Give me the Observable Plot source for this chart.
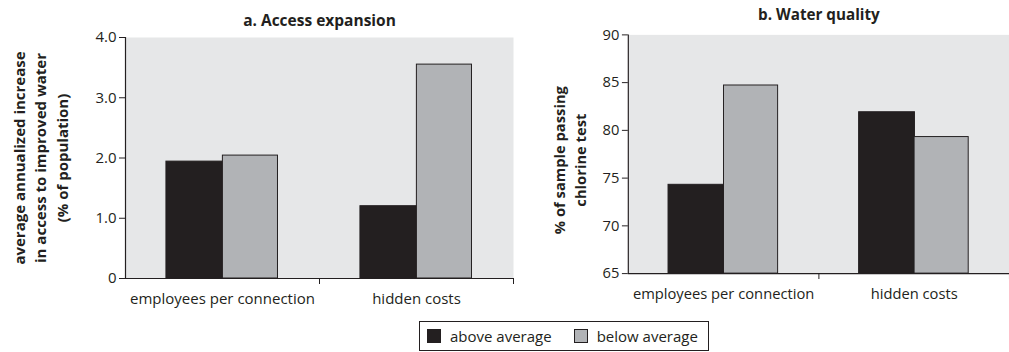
<!DOCTYPE html>
<html>
<head>
<meta charset="utf-8">
<script src="https://cdn.jsdelivr.net/npm/d3@7"></script>
<script src="https://cdn.jsdelivr.net/npm/@observablehq/plot@0.6"></script>
<style>
  html, body { margin: 0; padding: 0; background: #fff; overflow: hidden; }
  #wrap { position: relative; width: 1009px; height: 352px; overflow: hidden; font-family: "Open Sans", sans-serif; }
  #left { position: absolute; left: 0; top: 0; }
  #right { position: absolute; left: 505px; top: 0; }
  #legend { position: absolute; left: 419px; top: 321px; width: 288px; height: 28px; border: 1px solid #231f20; box-sizing: content-box;
            display: flex; align-items: center; font-size: 15px; color: #231f20; }
  .sw { width: 14px; height: 14px; border: 1px solid #231f20; display: inline-block; margin-right: 9px; box-sizing: border-box; }
  .item { display: flex; align-items: center; }
</style>
</head>
<body>
<div id="wrap">
  <div id="left"></div>
  <div id="right"></div>
  <div id="legend"></div>
</div>
<script>
const categories = ["employees per connection", "hidden costs"];
const seriesNames = ["above average", "below average"];
const seriesColors = ["#231f20", "#b1b3b6"];

const accessAbove = [1.94, 1.20];
const accessBelow = [2.04, 3.55];
const accessTicks = [0, 1, 2, 3, 4];

const qualityAbove = [74.3, 81.9];
const qualityBelow = [84.7, 79.3];
const qualityTicks = [65, 70, 75, 80, 85, 90];

const ink = "#231f20";
const bg = "#e6e7e8";
const font = "Open Sans, sans-serif";

function rows(above, below) {
  return categories.flatMap((c, i) => [
    {category: c, series: seriesNames[0], value: above[i]},
    {category: c, series: seriesNames[1], value: below[i]}
  ]);
}

function panel({data, domain, ticks, tickFormat, title, titleDy, label, labelDx, labelDy, width, marginLeft, marginRight, marginTop}) {
  const height = 310;
  const marginBottom = 32;
  const plotH = height - marginTop - marginBottom;
  const band = (width - marginLeft - marginRight) / categories.length;
  const base = domain[0];
  return Plot.plot({
    width, height, marginLeft, marginRight, marginTop, marginBottom,
    style: {fontFamily: font, fontSize: "15px", color: ink, background: "transparent", overflow: "visible"},
    x: {type: "band", domain: categories, padding: 0, axis: null},
    y: {domain, axis: null},
    marks: [
      Plot.frame({fill: bg}),
      Plot.barY(data.filter(d => d.series === seriesNames[0]), {
        x: "category", y1: base, y2: "value", fill: seriesColors[0], stroke: ink, strokeWidth: 1,
        insetLeft: band * 0.211, insetRight: band * 0.496
      }),
      Plot.barY(data.filter(d => d.series === seriesNames[1]), {
        x: "category", y1: base, y2: "value", fill: seriesColors[1], stroke: ink, strokeWidth: 1,
        insetLeft: band * 0.502, insetRight: band * 0.214
      }),
      Plot.ruleY([base], {stroke: ink, strokeWidth: 1.2}),
      Plot.axisY({ticks, tickFormat, tickSize: 6, tickPadding: 3, stroke: ink, fill: ink, fontSize: 15, label: null}),
      Plot.tickX(categories.slice(0, 1), {x: d => d, dx: -band / 2, stroke: ink, strokeWidth: 1.2, insetBottom: 0}),
      Plot.tickX(categories, {x: d => d, dx: band / 2, stroke: ink, strokeWidth: 1, insetTop: plotH, insetBottom: -6}),
      Plot.axisX({tickSize: 0, tickPadding: 15, fontSize: 15, fill: ink, label: null}),
      Plot.text([title], {frameAnchor: "top", dy: titleDy, fontWeight: "bold", fontSize: 15.5, fill: ink}),
      Plot.text([label], {frameAnchor: "left", textAnchor: "middle", lineAnchor: "middle", dx: labelDx, dy: labelDy, rotate: -90,
        fontWeight: "bold", fontSize: 15, lineHeight: 1.45, fill: ink})
    ]
  });
}

document.getElementById("left").append(panel({
  data: rows(accessAbove, accessBelow),
  domain: [0, 4], ticks: accessTicks, tickFormat: d => d === 0 ? "0" : d.toFixed(1),
  title: "a. Access expansion", titleDy: -23,
  label: "average annualized increase\nin access to improved water\n(% of population)", labelDx: -86, labelDy: 0,
  width: 519, marginLeft: 125, marginRight: 6, marginTop: 37
}));

document.getElementById("right").append(panel({
  data: rows(qualityAbove, qualityBelow),
  domain: [65, 90], ticks: qualityTicks, tickFormat: d => String(d),
  title: "b. Water quality", titleDy: -26,
  label: "% of sample passing\nchlorine test", labelDx: -61, labelDy: 6,
  width: 513, marginLeft: 125, marginRight: 0, marginTop: 35
}));

const legend = document.getElementById("legend");
seriesNames.forEach((name, i) => {
  const item = document.createElement("div");
  item.className = "item";
  item.style.marginLeft = i === 0 ? "7px" : "22px";
  const sw = document.createElement("span");
  sw.className = "sw";
  sw.style.background = seriesColors[i];
  const t = document.createElement("span");
  t.textContent = name;
  item.append(sw, t);
  legend.append(item);
});
</script>
</body>
</html>
